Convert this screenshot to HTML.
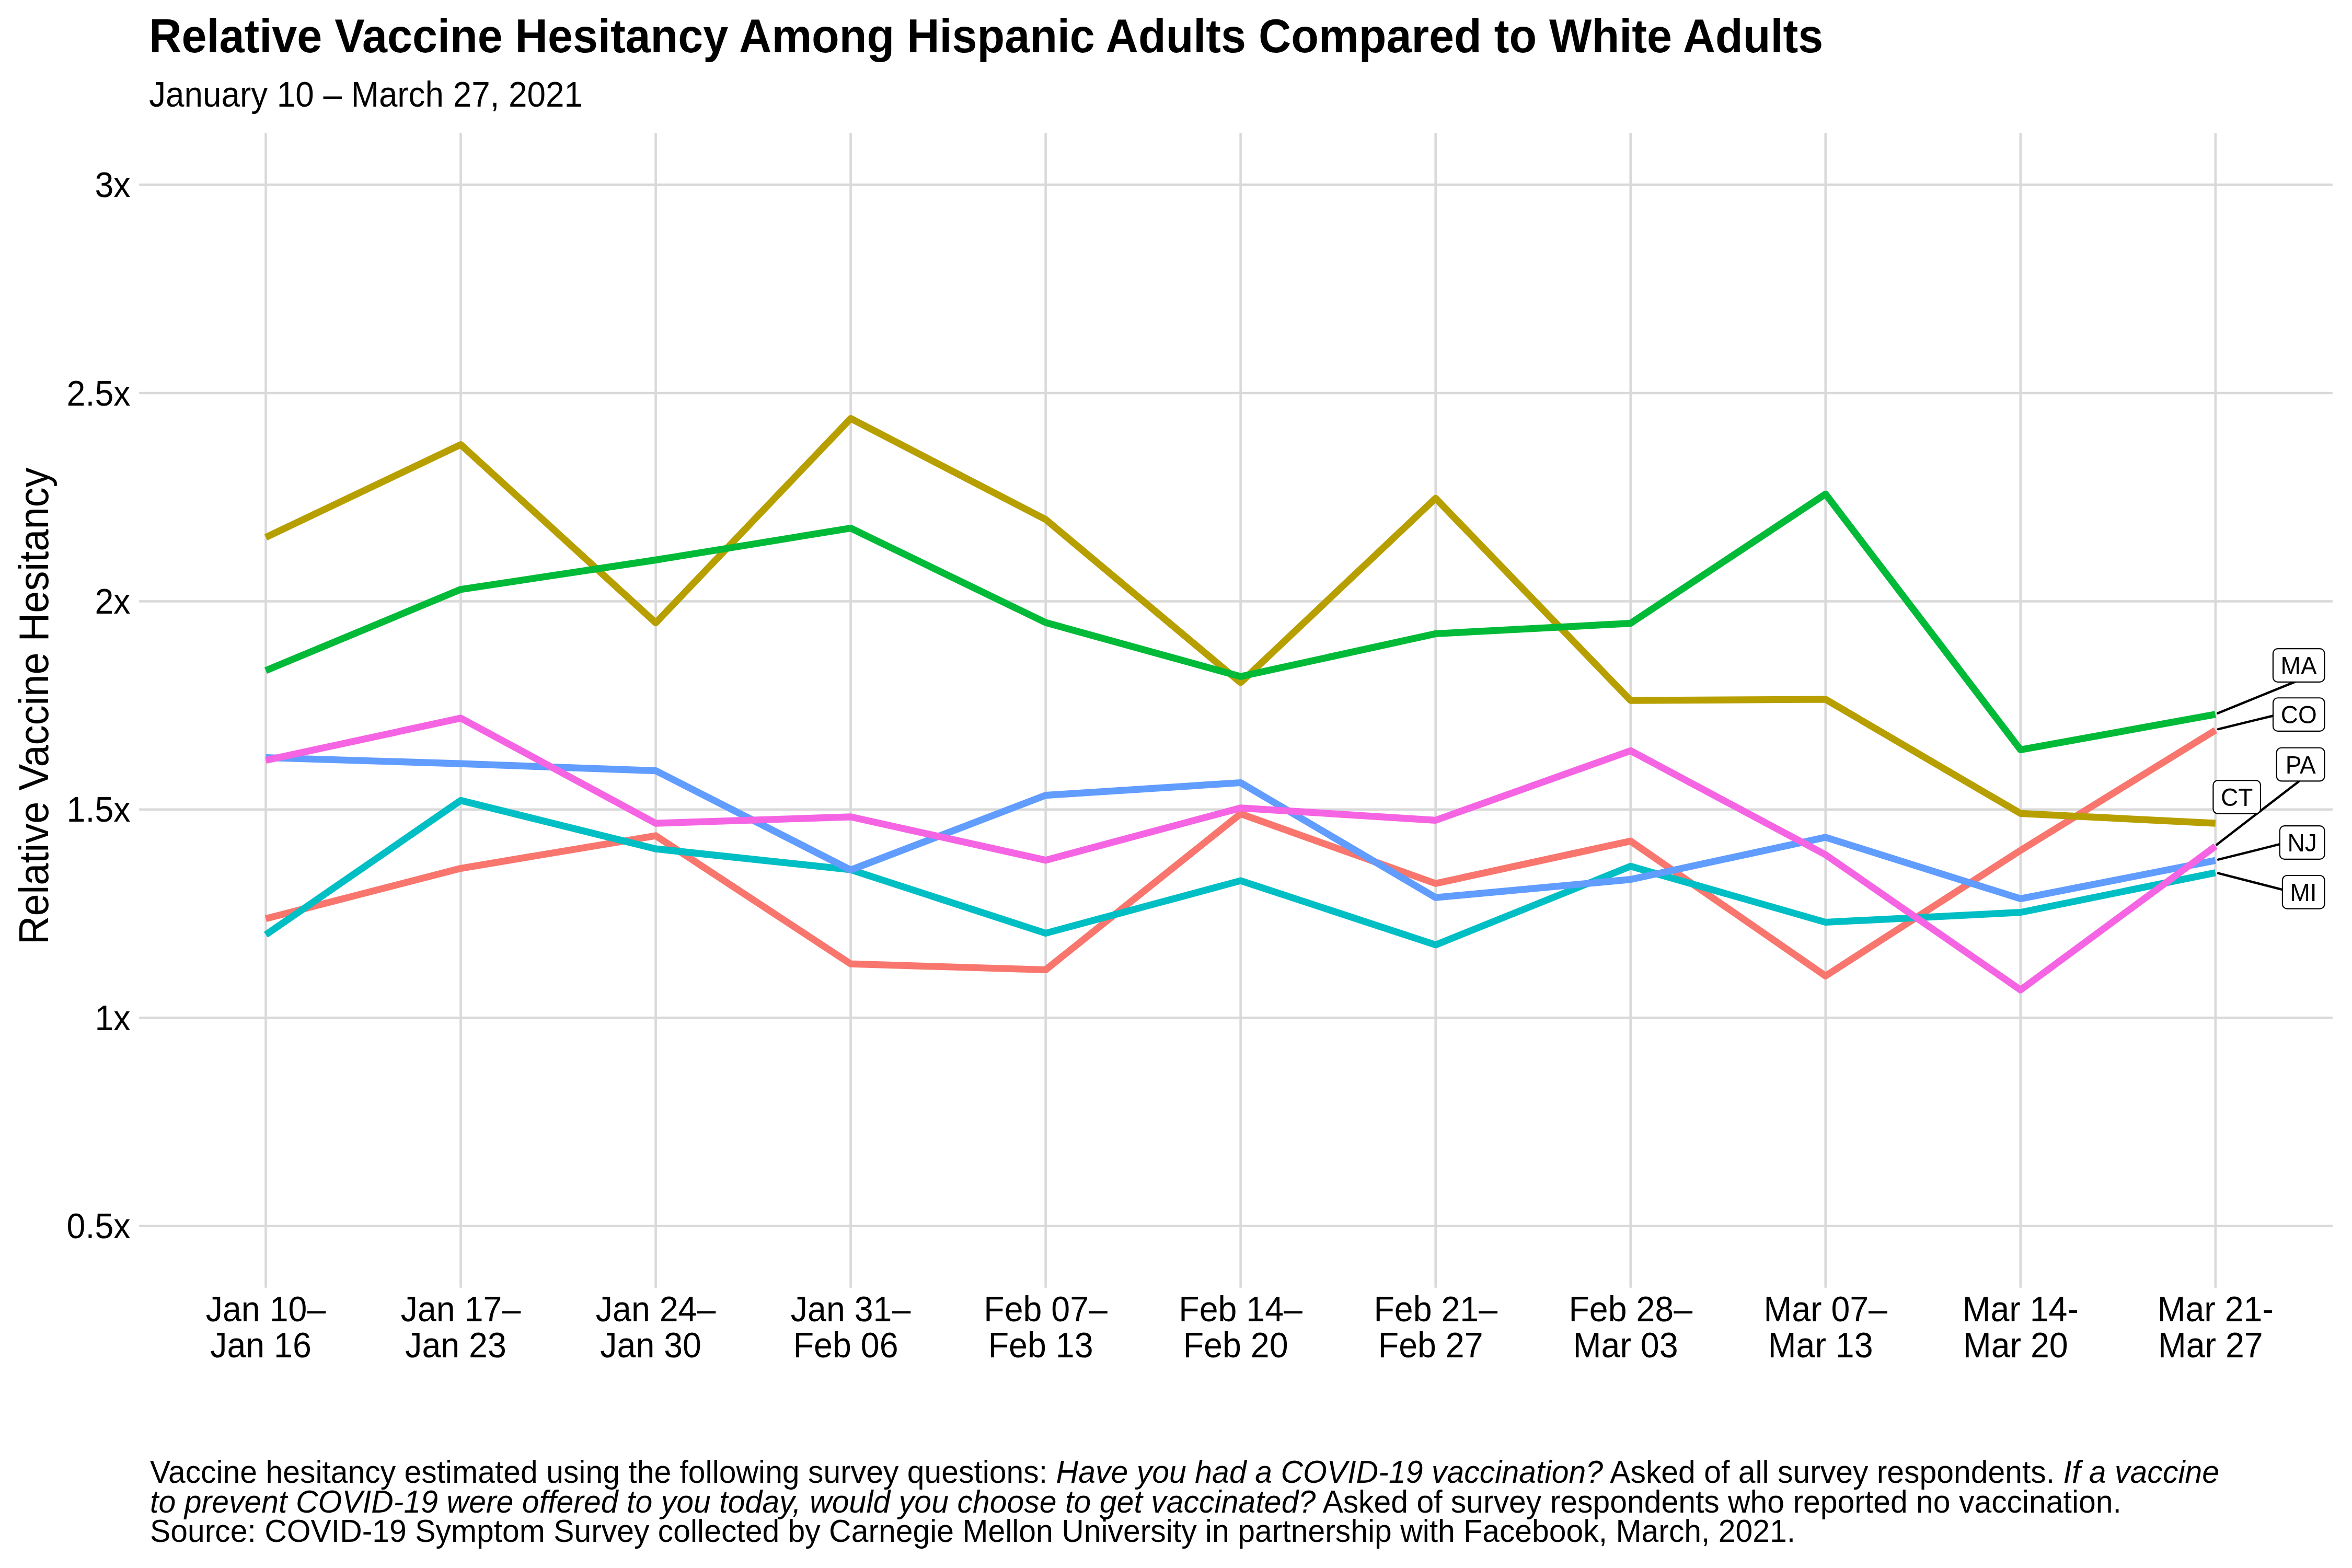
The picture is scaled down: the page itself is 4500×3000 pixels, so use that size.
<!DOCTYPE html>
<html><head><meta charset="utf-8"><style>
html,body{margin:0;padding:0;background:#fff;}
body{width:4500px;height:3000px;overflow:hidden;}
svg{display:block;font-family:"Liberation Sans", sans-serif;}
text{fill:#000;}
</style></head><body>
<svg width="4500" height="3000" viewBox="0 0 4500 3000">
<rect x="0" y="0" width="4500" height="3000" fill="#fff"/>

<g stroke="#D9D9D9" stroke-width="4.5" fill="none">
<line x1="266.2" y1="353.5" x2="4462.8" y2="353.5"/>
<line x1="266.2" y1="752.0" x2="4462.8" y2="752.0"/>
<line x1="266.2" y1="1150.4" x2="4462.8" y2="1150.4"/>
<line x1="266.2" y1="1548.8" x2="4462.8" y2="1548.8"/>
<line x1="266.2" y1="1947.3" x2="4462.8" y2="1947.3"/>
<line x1="266.2" y1="2345.8" x2="4462.8" y2="2345.8"/>
<line x1="508.5" y1="254" x2="508.5" y2="2463.8"/>
<line x1="881.5" y1="254" x2="881.5" y2="2463.8"/>
<line x1="1254.6" y1="254" x2="1254.6" y2="2463.8"/>
<line x1="1627.6" y1="254" x2="1627.6" y2="2463.8"/>
<line x1="2000.6" y1="254" x2="2000.6" y2="2463.8"/>
<line x1="2373.6" y1="254" x2="2373.6" y2="2463.8"/>
<line x1="2746.7" y1="254" x2="2746.7" y2="2463.8"/>
<line x1="3119.7" y1="254" x2="3119.7" y2="2463.8"/>
<line x1="3492.7" y1="254" x2="3492.7" y2="2463.8"/>
<line x1="3865.8" y1="254" x2="3865.8" y2="2463.8"/>
<line x1="4238.8" y1="254" x2="4238.8" y2="2463.8"/>
</g>
<polyline points="508.5,1757.6 881.5,1661.4 1254.6,1598.9 1627.6,1844.2 2000.6,1855.5 2373.6,1557.0 2746.7,1690.4 3119.7,1609.2 3492.7,1867.2 3865.8,1627.0 4238.8,1397.0" fill="none" stroke="#F8766D" stroke-width="13.2" stroke-linejoin="round" stroke-linecap="butt"/>
<polyline points="508.5,1028.1 881.5,850.6 1254.6,1191.7 1627.6,800.7 2000.6,993.8 2373.6,1306.0 2746.7,953.3 3119.7,1340.2 3492.7,1338.0 3865.8,1556.3 4238.8,1575.1" fill="none" stroke="#B79F00" stroke-width="13.2" stroke-linejoin="round" stroke-linecap="butt"/>
<polyline points="508.5,1282.9 881.5,1127.7 1254.6,1071.4 1627.6,1010.5 2000.6,1191.1 2373.6,1294.4 2746.7,1212.5 3119.7,1192.6 3492.7,945.3 3865.8,1434.6 4238.8,1366.8" fill="none" stroke="#00BA38" stroke-width="13.2" stroke-linejoin="round" stroke-linecap="butt"/>
<polyline points="508.5,1788.4 881.5,1531.5 1254.6,1624.1 1627.6,1664.0 2000.6,1785.5 2373.6,1685.0 2746.7,1807.8 3119.7,1657.4 3492.7,1764.5 3865.8,1745.6 4238.8,1669.7" fill="none" stroke="#00BFC4" stroke-width="13.2" stroke-linejoin="round" stroke-linecap="butt"/>
<polyline points="508.5,1449.5 881.5,1461.2 1254.6,1474.6 1627.6,1664.5 2000.6,1521.6 2373.6,1497.5 2746.7,1717.2 3119.7,1682.6 3492.7,1602.0 3865.8,1719.5 4238.8,1646.3" fill="none" stroke="#619CFF" stroke-width="13.2" stroke-linejoin="round" stroke-linecap="butt"/>
<polyline points="508.5,1454.6 881.5,1374.0 1254.6,1575.2 1627.6,1562.9 2000.6,1645.8 2373.6,1545.8 2746.7,1569.4 3119.7,1436.4 3492.7,1635.3 3865.8,1894.0 4238.8,1619.0" fill="none" stroke="#F564E3" stroke-width="13.2" stroke-linejoin="round" stroke-linecap="butt"/>
<text transform="translate(285.3,99.5) scale(1,1.045)" font-size="86.3" text-anchor="start" font-weight="bold" font-style="normal">Relative Vaccine Hesitancy Among Hispanic Adults Compared to White Adults</text>
<text transform="translate(285.2,204.0) scale(1,1.06)" font-size="63.8" text-anchor="start" font-weight="normal" font-style="normal">January 10 – March 27, 2021</text>
<text transform="translate(249.5,377.0) scale(1,1.06)" font-size="64.5" text-anchor="end" font-weight="normal" font-style="normal">3x</text>
<text transform="translate(249.5,775.5) scale(1,1.06)" font-size="64.5" text-anchor="end" font-weight="normal" font-style="normal">2.5x</text>
<text transform="translate(249.5,1173.9) scale(1,1.06)" font-size="64.5" text-anchor="end" font-weight="normal" font-style="normal">2x</text>
<text transform="translate(249.5,1572.3) scale(1,1.06)" font-size="64.5" text-anchor="end" font-weight="normal" font-style="normal">1.5x</text>
<text transform="translate(249.5,1970.8) scale(1,1.06)" font-size="64.5" text-anchor="end" font-weight="normal" font-style="normal">1x</text>
<text transform="translate(249.5,2369.2) scale(1,1.06)" font-size="64.5" text-anchor="end" font-weight="normal" font-style="normal">0.5x</text>
<text transform="translate(508.5,2527.6) scale(1,1.06)" font-size="64.5" text-anchor="middle" font-weight="normal" font-style="normal">Jan 10–</text>
<text transform="translate(499.0,2597.3) scale(1,1.06)" font-size="64.5" text-anchor="middle" font-weight="normal" font-style="normal">Jan 16</text>
<text transform="translate(881.5,2527.6) scale(1,1.06)" font-size="64.5" text-anchor="middle" font-weight="normal" font-style="normal">Jan 17–</text>
<text transform="translate(872.0,2597.3) scale(1,1.06)" font-size="64.5" text-anchor="middle" font-weight="normal" font-style="normal">Jan 23</text>
<text transform="translate(1254.6,2527.6) scale(1,1.06)" font-size="64.5" text-anchor="middle" font-weight="normal" font-style="normal">Jan 24–</text>
<text transform="translate(1245.1,2597.3) scale(1,1.06)" font-size="64.5" text-anchor="middle" font-weight="normal" font-style="normal">Jan 30</text>
<text transform="translate(1627.6,2527.6) scale(1,1.06)" font-size="64.5" text-anchor="middle" font-weight="normal" font-style="normal">Jan 31–</text>
<text transform="translate(1618.1,2597.3) scale(1,1.06)" font-size="64.5" text-anchor="middle" font-weight="normal" font-style="normal">Feb 06</text>
<text transform="translate(2000.6,2527.6) scale(1,1.06)" font-size="64.5" text-anchor="middle" font-weight="normal" font-style="normal">Feb 07–</text>
<text transform="translate(1991.1,2597.3) scale(1,1.06)" font-size="64.5" text-anchor="middle" font-weight="normal" font-style="normal">Feb 13</text>
<text transform="translate(2373.6,2527.6) scale(1,1.06)" font-size="64.5" text-anchor="middle" font-weight="normal" font-style="normal">Feb 14–</text>
<text transform="translate(2364.1,2597.3) scale(1,1.06)" font-size="64.5" text-anchor="middle" font-weight="normal" font-style="normal">Feb 20</text>
<text transform="translate(2746.7,2527.6) scale(1,1.06)" font-size="64.5" text-anchor="middle" font-weight="normal" font-style="normal">Feb 21–</text>
<text transform="translate(2737.2,2597.3) scale(1,1.06)" font-size="64.5" text-anchor="middle" font-weight="normal" font-style="normal">Feb 27</text>
<text transform="translate(3119.7,2527.6) scale(1,1.06)" font-size="64.5" text-anchor="middle" font-weight="normal" font-style="normal">Feb 28–</text>
<text transform="translate(3110.2,2597.3) scale(1,1.06)" font-size="64.5" text-anchor="middle" font-weight="normal" font-style="normal">Mar 03</text>
<text transform="translate(3492.7,2527.6) scale(1,1.06)" font-size="64.5" text-anchor="middle" font-weight="normal" font-style="normal">Mar 07–</text>
<text transform="translate(3483.2,2597.3) scale(1,1.06)" font-size="64.5" text-anchor="middle" font-weight="normal" font-style="normal">Mar 13</text>
<text transform="translate(3865.8,2527.6) scale(1,1.06)" font-size="64.5" text-anchor="middle" font-weight="normal" font-style="normal">Mar 14-</text>
<text transform="translate(3856.3,2597.3) scale(1,1.06)" font-size="64.5" text-anchor="middle" font-weight="normal" font-style="normal">Mar 20</text>
<text transform="translate(4238.8,2527.6) scale(1,1.06)" font-size="64.5" text-anchor="middle" font-weight="normal" font-style="normal">Mar 21-</text>
<text transform="translate(4229.3,2597.3) scale(1,1.06)" font-size="64.5" text-anchor="middle" font-weight="normal" font-style="normal">Mar 27</text>
<text transform="translate(91.8,1351) rotate(-90) scale(1,1.045)" font-size="75.8" text-anchor="middle">Relative Vaccine Hesitancy</text>
<text transform="translate(287,2837.4) scale(1,1.045)" font-size="58.9" xml:space="preserve">Vaccine hesitancy estimated using the following survey questions: <tspan font-style="italic" letter-spacing="0.07">Have you had a COVID-19 vaccination?</tspan> Asked of all survey respondents. <tspan font-style="italic" letter-spacing="0.07">If a vaccine</tspan></text>
<text transform="translate(287,2894) scale(1,1.045)" font-size="58.9" xml:space="preserve"><tspan font-style="italic" letter-spacing="0.07">to prevent COVID-19 were offered to you today, would you choose to get vaccinated?</tspan> Asked of survey respondents who reported no vaccination.</text>
<text transform="translate(287,2950) scale(1,1.045)" font-size="58.9" xml:space="preserve">Source: COVID-19 Symptom Survey collected by Carnegie Mellon University in partnership with Facebook, March, 2021.</text>
<line x1="4243.2" y1="1364.6" x2="4390.2" y2="1304.9" stroke="#000" stroke-width="4.4" stroke-linecap="round"/>
<line x1="4244.0" y1="1395.2" x2="4349.0" y2="1369.5" stroke="#000" stroke-width="4.4" stroke-linecap="round"/>
<line x1="4241.3" y1="1616.0" x2="4399.0" y2="1494.45" stroke="#000" stroke-width="4.4" stroke-linecap="round"/>
<line x1="4244.0" y1="1644.7" x2="4361.8" y2="1615.2" stroke="#000" stroke-width="4.4" stroke-linecap="round"/>
<line x1="4244.0" y1="1670.7" x2="4366.9" y2="1702.1" stroke="#000" stroke-width="4.4" stroke-linecap="round"/>
<g style="will-change:transform">
<rect x="4348.9" y="1241.2" width="98.5" height="63.7" rx="9" ry="9" fill="#fff" stroke="#000" stroke-width="2.2"/>
<text transform="translate(4398.1,1290.1) scale(1,1.06)" font-size="46" text-anchor="middle" font-weight="normal" font-style="normal">MA</text>
<rect x="4349.0" y="1335.25" width="98.4" height="63.7" rx="9" ry="9" fill="#fff" stroke="#000" stroke-width="2.2"/>
<text transform="translate(4398.2,1384.1) scale(1,1.06)" font-size="46" text-anchor="middle" font-weight="normal" font-style="normal">CO</text>
<rect x="4355.8" y="1430.75" width="91.6" height="63.7" rx="9" ry="9" fill="#fff" stroke="#000" stroke-width="2.2"/>
<text transform="translate(4401.6,1479.6) scale(1,1.06)" font-size="46" text-anchor="middle" font-weight="normal" font-style="normal">PA</text>
<rect x="4234.4" y="1493.05" width="90.6" height="63.7" rx="9" ry="9" fill="#fff" stroke="#000" stroke-width="2.2"/>
<text transform="translate(4279.7,1541.9) scale(1,1.06)" font-size="46" text-anchor="middle" font-weight="normal" font-style="normal">CT</text>
<rect x="4361.8" y="1580.2" width="85.6" height="63.7" rx="9" ry="9" fill="#fff" stroke="#000" stroke-width="2.2"/>
<text transform="translate(4404.6,1629.1) scale(1,1.06)" font-size="46" text-anchor="middle" font-weight="normal" font-style="normal">NJ</text>
<rect x="4366.9" y="1675.0" width="80.5" height="63.7" rx="9" ry="9" fill="#fff" stroke="#000" stroke-width="2.2"/>
<text transform="translate(4407.1,1723.8) scale(1,1.06)" font-size="46" text-anchor="middle" font-weight="normal" font-style="normal">MI</text>
</g>
</svg></body></html>
